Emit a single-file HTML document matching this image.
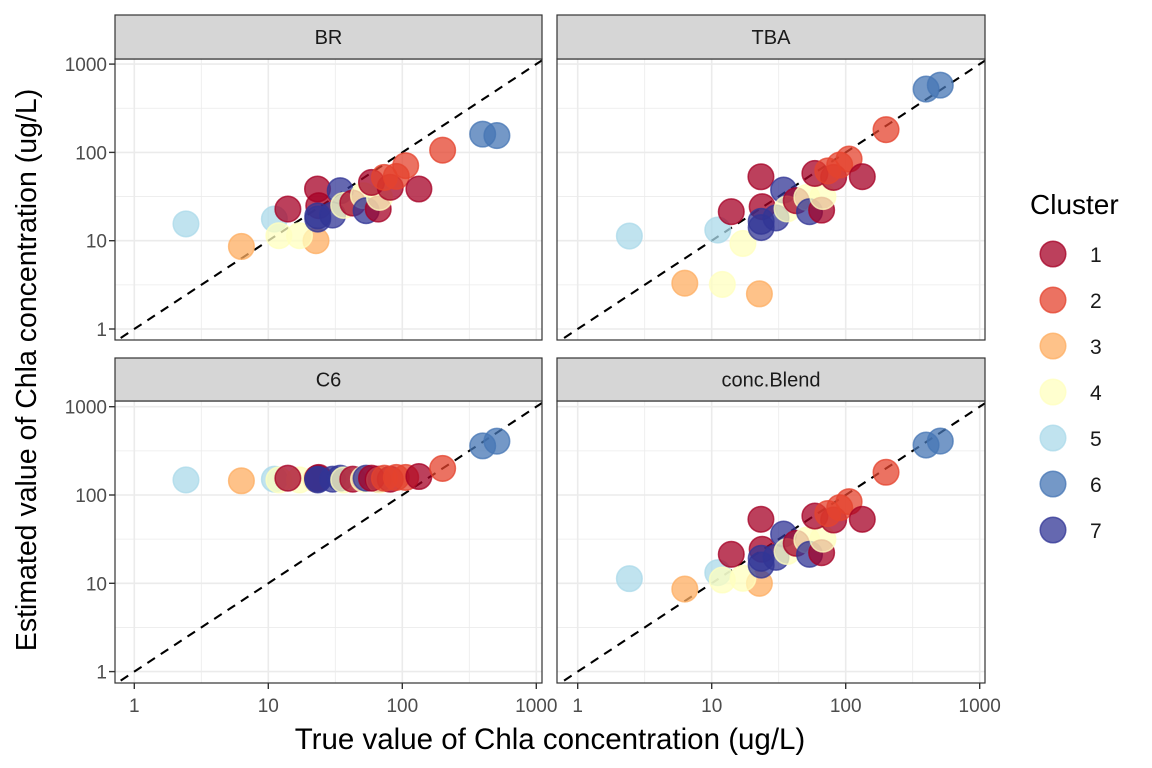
<!DOCTYPE html>
<html><head><meta charset="utf-8"><style>
body{margin:0;background:#fff}
svg{display:block;font-family:"Liberation Sans",Arial,sans-serif}
</style></head><body>
<svg id="chart" width="1152" height="768" viewBox="0 0 1152 768">
<rect width="1152" height="768" fill="#fff"/>
<g id="panels"></g>
<text x="550" y="749" font-size="29.5" text-anchor="middle" fill="#000">True value of Chla concentration (ug/L)</text>
<text transform="translate(36,370) rotate(-90)" font-size="28.5" text-anchor="middle" fill="#000">Estimated value of Chla concentration (ug/L)</text>
<g id="legend">
<text x="1030" y="214" font-size="28" fill="#000">Cluster</text>
</g>
</svg>
<script>
const panelNames = ["BR","TBA","C6","conc.Blend"];
const clusterLabels = ["1","2","3","4","5","6","7"];
const clusterColors = ["#A50026","#E4432D","#FDAE61","#FFFFBF","#ABD9E9","#4575B4","#313695"];
const pointCluster = [5,5,3,4,3,4,1,1,1,7,7,7,7,4,1,4,7,1,4,1,1,2,2,2,1,2,6,6];
const trueValues = [2.43,11.1,6.3,12.0,22.7,17.1,23.3,14.0,23.8,23.4,23.4,30.2,34.4,36.5,42.7,51.3,53.7,66.1,67.6,58.9,81.3,73.5,90.2,106,133,200,398,508];
const estBR = [15.5,17.6,8.6,11.4,10,11.4,38.5,22.8,24.9,19.1,17.6,19.5,36.8,25.1,26.7,32.4,21.9,22.8,30.9,45.7,40.2,52.1,53.5,70.8,38.5,106,161,155];
const estTBA = [11.3,13.2,3.3,3.2,2.5,9.3,53,21.3,24.3,16.6,14.1,18.1,37.5,22.9,28.4,30.9,21.3,22.2,31.6,57.8,52.1,61.7,71.9,84.1,53.1,181,521,578];
const estC6 = [148,151,145,148,151,148,155,155,158,148,151,151,155,148,151,151,155,151,148,155,151,155,158,158,162,200,360,407];
const estBlend = [11.3,13.2,8.6,10.9,10,11.4,53.1,21.3,24.3,19.2,16.1,19.7,36.1,22.9,28.4,30.9,21.3,22.2,31.6,57.8,52.1,61.7,71.9,84.1,53.1,181,368,408];
const tickValues = [1,10,100,1000];
const tickLabels = ["1","10","100","1000"];
const estimates = [estBR, estTBA, estC6, estBlend];

const NS = "http://www.w3.org/2000/svg";
const root = document.getElementById("panels");
function mk(tag, attrs, parent){const e=document.createElementNS(NS,tag);for(const k in attrs)e.setAttribute(k,attrs[k]);parent.appendChild(e);return e;}
const boxes = [
 {x0:115,x1:542,y0:59,y1:340,sy:15,one:134.3,yone:329},
 {x0:557,x1:985,y0:59,y1:340,sy:15,one:577.7,yone:329},
 {x0:115,x1:542,y0:401,y1:683,sy:358,one:134.3,yone:671.6},
 {x0:557,x1:985,y0:401,y1:683,sy:358,one:577.7,yone:671.6}
];
const DX=134, DY=88.3;
boxes.forEach((b,pi)=>{
  const xs = v => b.one + DX*Math.log10(v);
  const ys = v => b.yone - DY*Math.log10(v);
  const g = mk("g",{},root);
  
  
  const cid="clip"+pi;
  const cp=mk("clipPath",{id:cid},g); mk("rect",{x:b.x0,y:b.y0,width:b.x1-b.x0,height:b.y1-b.y0},cp);
  mk("rect",{x:b.x0,y:b.y0,width:b.x1-b.x0,height:b.y1-b.y0,fill:"#fff"},g);
  const grid=mk("g",{"clip-path":"url(#"+cid+")"},g);
  for(let e=-1;e<=3;e++){
    const mv=Math.pow(10,e+0.5);
    mk("line",{x1:xs(mv),x2:xs(mv),y1:b.y0,y2:b.y1,stroke:"#EBEBEB","stroke-width":0.8},grid);
    mk("line",{y1:ys(mv),y2:ys(mv),x1:b.x0,x2:b.x1,stroke:"#EBEBEB","stroke-width":0.8},grid);
  }
  tickValues.forEach(v=>{
    mk("line",{x1:xs(v),x2:xs(v),y1:b.y0,y2:b.y1,stroke:"#EBEBEB","stroke-width":1.6},grid);
    mk("line",{y1:ys(v),y2:ys(v),x1:b.x0,x2:b.x1,stroke:"#EBEBEB","stroke-width":1.6},grid);
  });
  const dl=mk("line",{x1:xs(0.5),y1:ys(0.5),x2:xs(2000),y2:ys(2000),stroke:"#000","stroke-width":2.1,"stroke-dasharray":"9,7","clip-path":"url(#"+cid+")"},g);
  
  
  const est=estimates[pi];
  const pg=mk("g",{"clip-path":"url(#"+cid+")"},g);
  trueValues.forEach((tv,i)=>{
    const c=clusterColors[pointCluster[i]-1];
    const p=mk("circle",{cx:xs(tv),cy:ys(est[i]),r:12.8,fill:c,"fill-opacity":0.75,stroke:c,"stroke-opacity":0.75,"stroke-width":1.5},pg);
    
    
  });
  mk("rect",{x:b.x0,y:b.y0,width:b.x1-b.x0,height:b.y1-b.y0,fill:"none",stroke:"#333","stroke-width":1.2},g);
  const st=mk("rect",{x:b.x0,y:b.sy,width:b.x1-b.x0,height:b.y0-b.sy,fill:"#D6D6D6",stroke:"#333","stroke-width":1.2},g);
  
  
  const stt=mk("text",{x:(b.x0+b.x1)/2,y:(b.sy+b.y0)/2+7,"font-size":20,"text-anchor":"middle",fill:"#1A1A1A"},g);
  stt.textContent=panelNames[pi];
  
  
  tickValues.forEach((v,ti)=>{
    if(pi%2===0){
      mk("line",{x1:b.x0-6,x2:b.x0,y1:ys(v),y2:ys(v),stroke:"#333","stroke-width":1.4},g);
      const t=mk("text",{x:b.x0-8,y:ys(v)+7,"font-size":19,"text-anchor":"end",fill:"#4D4D4D"},g);
      t.textContent=tickLabels[ti];
      
      
    }
    if(pi>=2){
      mk("line",{x1:xs(v),x2:xs(v),y1:b.y1,y2:b.y1+6,stroke:"#333","stroke-width":1.4},g);
      const t=mk("text",{x:xs(v),y:b.y1+29,"font-size":19,"text-anchor":"middle",fill:"#4D4D4D"},g);
      t.textContent=tickLabels[ti];
      
      
    }
  });
});
const lg=document.getElementById("legend");
clusterLabels.forEach((l,i)=>{
  const y=254+i*46;
  const c=mk("circle",{cx:1053,cy:y,r:12.8,fill:clusterColors[i],"fill-opacity":0.75,stroke:clusterColors[i],"stroke-opacity":0.75,"stroke-width":1.5},lg);
  
  
  const t=mk("text",{x:1090,y:y+8,"font-size":21,fill:"#1A1A1A"},lg);
  t.textContent=l;
  
  
});
</script>
</body></html>
